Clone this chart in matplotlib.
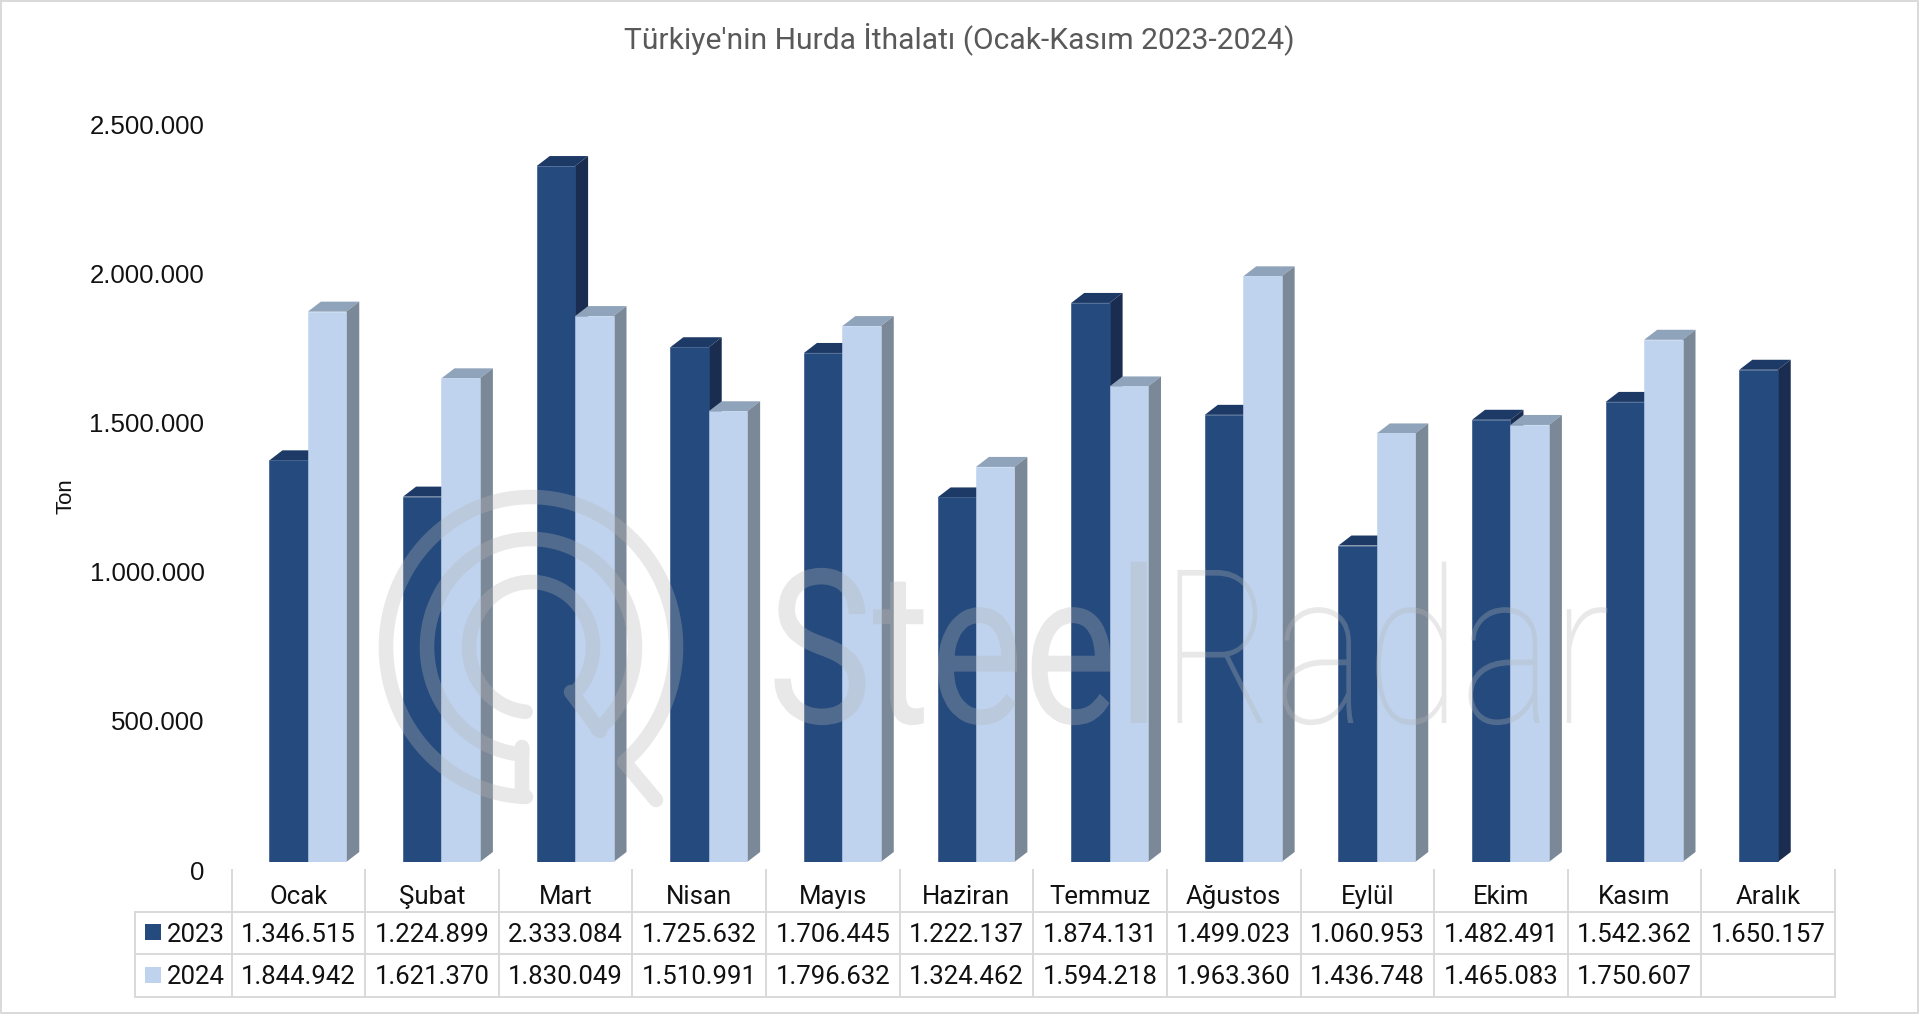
import numpy as np
import matplotlib
matplotlib.use('Agg')
import matplotlib.pyplot as plt
from matplotlib.patheffects import AbstractPathEffect
from matplotlib.transforms import Affine2D, ScaledTranslation

months = ['Ocak', 'Şubat', 'Mart', 'Nisan', 'Mayıs', 'Haziran', 'Temmuz', 'Ağustos', 'Eylül', 'Ekim', 'Kasım', 'Aralık']
values_2023 = [1346515, 1224899, 2333084, 1725632, 1706445, 1222137, 1874131, 1499023, 1060953, 1482491, 1542362, 1650157]
values_2024 = [1844942, 1621370, 1830049, 1510991, 1796632, 1324462, 1594218, 1963360, 1436748, 1465083, 1750607, None]
series_names = ['2023', '2024']
y_ticks = [0, 500000, 1000000, 1500000, 2000000, 2500000]

W, H = 1920, 1015
FONT = 'Roboto'
AXIS_FONT = 'Liberation Sans'
INK = '#111111'
GRID = '#d9d9d9'
DARK = ('#254a7d', '#1d3a66', '#1a2d50')    # front, top, side
LIGHT = ('#bfd3ee', '#8fa3bb', '#7b8898')

plt.rcParams['font.family'] = [FONT, 'DejaVu Sans']


def dots(v):
    return f'{v:,}'.replace(',', '.')


class SqueezeX(AbstractPathEffect):
    # narrows a text horizontally around a pixel x, the watermark font is condensed
    def __init__(self, sx, x_px):
        super().__init__()
        self.sx, self.x_px = sx, x_px

    def draw_path(self, renderer, gc, tpath, affine, rgbFace=None):
        squeeze = Affine2D().translate(-self.x_px, 0).scale(self.sx, 1).translate(self.x_px, 0)
        renderer.draw_path(gc, tpath, affine + squeeze, rgbFace)


fig = plt.figure(figsize=(W / 100, H / 100), dpi=100, facecolor='white')

# main axes: one x unit is one table column, y is tons
base_y, table_x0, table_x1 = 862, 231.5, 1835
px_per_ton = 298.3e-6
plot_h = 2500000 * px_per_ton
ax = fig.add_axes([table_x0 / W, (H - base_y) / H, (table_x1 - table_x0) / W, plot_h / H])
ax.set_xlim(0, 12)
ax.set_ylim(0, 2500000)
ax.patch.set_alpha(0)
for s in ax.spines.values():
    s.set_visible(False)
ax.set_xticks([])
ax.set_yticks(y_ticks)
ax.set_yticklabels([dots(v) for v in y_ticks], fontsize=18.6, color=INK, family=AXIS_FONT)
ax.tick_params(axis='y', length=0, pad=19.5)
shift = ScaledTranslation(0, -8 / 100, fig.dpi_scale_trans)
for lab in ax.get_yticklabels():
    lab.set_transform(lab.get_transform() + shift)

# fake 3D bars: front from ax.bar, top and side faces offset by the depth
bar_w = 0.2874
offset = 0.284
depth_x = 13 / 133.6
depth_y = 10 / px_per_ton


def draw_bar(x, v, cols, z):
    ax.bar(x, v, bar_w, align='edge', color=cols[0], zorder=z + 0.2, edgecolor=cols[0], linewidth=0.4)
    ax.fill([x, x + bar_w, x + bar_w + depth_x, x + depth_x], [v, v, v + depth_y, v + depth_y],
            color=cols[1], zorder=z, lw=0)
    ax.fill([x + bar_w, x + bar_w + depth_x, x + bar_w + depth_x, x + bar_w], [0, depth_y, v + depth_y, v],
            color=cols[2], zorder=z, lw=0)


for i in range(12):
    z = 2 + i
    draw_bar(i + offset, values_2023[i], DARK, z)
    if values_2024[i] is not None:
        draw_bar(i + offset + bar_w, values_2024[i], LIGHT, z + 0.5)

# overlay in pixel coordinates for frame, title, table and watermark
ov = fig.add_axes([0, 0, 1, 1], zorder=5)
ov.set_xlim(0, W)
ov.set_ylim(H, 0)
ov.axis('off')
ov.patch.set_alpha(0)

# frame
ov.plot([1, W - 2, W - 2, 1, 1], [1, 1, H - 2, H - 2, 1], color=GRID, lw=1.4)

ov.text(959, 39, "Türkiye'nin Hurda İthalatı (Ocak-Kasım 2023-2024)", fontsize=21.6, color='#595959',
        ha='center', va='center')
ov.text(66, 496, 'Ton', fontsize=16, color=INK, family=AXIS_FONT, rotation=90, ha='center', va='center')

# watermark logo, one path so the alpha does not stack
cx, cy = 531, 647


def arc(rx, ry, t0, t1):
    t = np.radians(np.linspace(t0, t1, 200))
    return np.c_[cx + rx * np.cos(t), cy + ry * np.sin(t)]


logo = np.vstack([
    [[656, 800]],
    arc(145, 150, 410, 92),
    [[522, 796], [522, 747]],
    arc(104, 108, 95, 410),
    [[600, 731], [571, 692]],
    arc(62, 65, 46, -265),
])
WM = dict(color='#b5b5b5', alpha=0.31)
ov.plot(logo[:, 0], logo[:, 1], lw=10.5, solid_capstyle='round', solid_joinstyle='round', zorder=6, **WM)
ov.text(1160, 723, 'Steel', fontsize=155, ha='right', va='baseline', zorder=6,
        path_effects=[SqueezeX(0.82, 1160)], **WM)
ov.text(1161, 723, 'Radar', fontsize=155, weight='light', ha='left', va='baseline', zorder=6,
        path_effects=[SqueezeX(0.805, 1161)], **WM)

# data table
col_x = [table_x0 + i * (table_x1 - table_x0) / 12 for i in range(13)]
left_x = 135
row_y = [870, 912, 954, 997]
for x in col_x:
    ov.plot([x, x], [row_y[0], row_y[3]], color=GRID, lw=1.4, zorder=3)
ov.plot([left_x, left_x], [row_y[1], row_y[3]], color=GRID, lw=1.4, zorder=3)
for y in row_y[1:]:
    ov.plot([left_x, col_x[-1]], [y, y], color=GRID, lw=1.4, zorder=3)

for i, m in enumerate(months):
    xc = (col_x[i] + col_x[i + 1]) / 2
    ov.text(xc, 897, m, fontsize=18.5, color=INK, ha='center', va='center')
    ov.text(xc, 934.5, dots(values_2023[i]), fontsize=18.5, color=INK, ha='center', va='center')
    if values_2024[i] is not None:
        ov.text(xc, 977, dots(values_2024[i]), fontsize=18.5, color=INK, ha='center', va='center')

for name, col, yc in zip(series_names, (DARK[0], LIGHT[0]), (932, 975)):
    ov.fill([144.5, 160.5, 160.5, 144.5], [yc - 8, yc - 8, yc + 8, yc + 8], color=col, lw=0)
    ov.text(167, yc + 2.5, name, fontsize=18.5, color=INK, ha='left', va='center')

fig.savefig('out.png', dpi=100)
